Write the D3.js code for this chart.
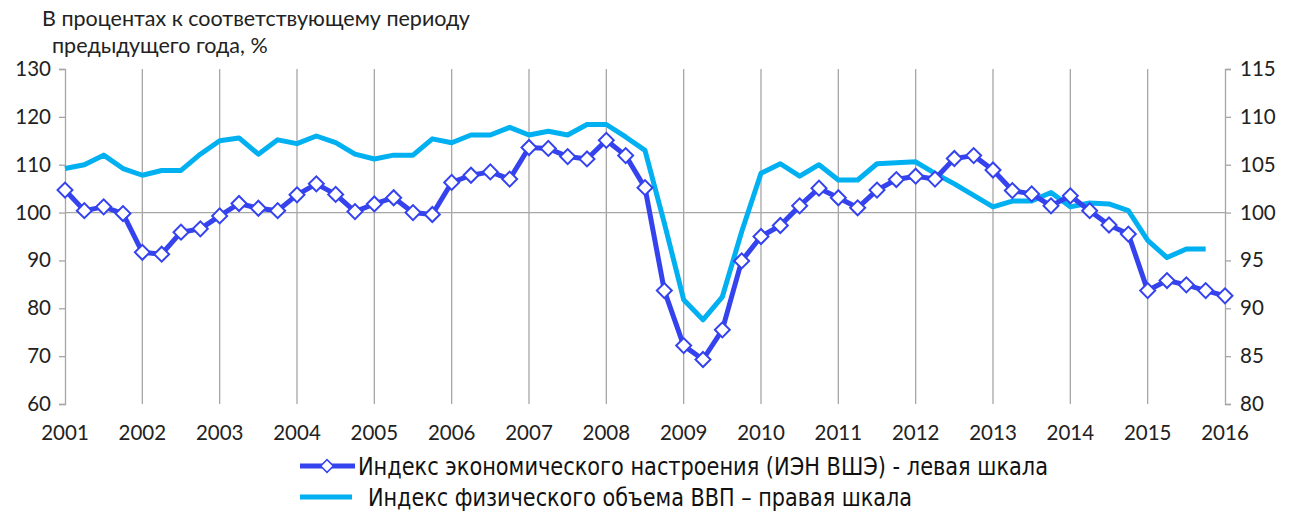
<!DOCTYPE html>
<html>
<head>
<meta charset="utf-8">
<script src="https://cdn.jsdelivr.net/npm/d3@7"></script>
<style>
  body { margin: 0; background: #fff; }
  svg { display: block; }
</style>
</head>
<body>
<script>
var width = 1296;
var height = 511;

// quarterly, from 2001 Q1
var startYear = 2001;
var ienValues = [104.7, 100.4, 101.2, 99.8, 91.7, 91.3, 95.9, 96.6, 99.3, 101.9,
  100.9, 100.4, 103.7, 106.0, 103.8, 100.2, 101.8, 103.1, 100.0, 99.6,
  106.3, 107.8, 108.5, 107.0, 113.6, 113.4, 111.7, 111.2, 115.1, 111.9,
  105.2, 83.7, 72.2, 69.3, 75.5, 89.9, 95.0, 97.3, 101.4, 105.1,
  103.1, 101.0, 104.7, 106.9, 107.6, 107.0, 111.3, 111.9, 108.9, 104.6,
  103.9, 101.4, 103.5, 100.4, 97.4, 95.5, 83.7, 85.8, 84.9, 83.7, 82.6];
var gdpValues = [104.6, 105.0, 106.0, 104.6, 103.9, 104.4, 104.4, 106.1, 107.5, 107.8,
  106.1, 107.6, 107.2, 108.0, 107.3, 106.1, 105.6, 106.0, 106.0, 107.7,
  107.3, 108.1, 108.1, 108.9, 108.1, 108.5, 108.1, 109.2, 109.2, 107.9,
  106.5, 98.9, 90.9, 88.8, 91.2, 98.0, 104.1, 105.1, 103.8, 105.0,
  103.4, 103.4, 105.1, 105.2, 105.3, 104.1, 103.0, 101.8, 100.6, 101.2,
  101.2, 102.1, 100.6, 101.0, 100.9, 100.2, 97.1, 95.3, 96.2, 96.2];
var years = [2001, 2002, 2003, 2004, 2005, 2006, 2007, 2008, 2009, 2010, 2011, 2012, 2013, 2014, 2015, 2016];
var leftTicks = [60, 70, 80, 90, 100, 110, 120, 130];
var rightTicks = [80, 85, 90, 95, 100, 105, 110, 115];
var titleLines = ["В процентах к соответствующему периоду", "предыдущего года, %"];
var legendLabels = ["Индекс экономического настроения (ИЭН ВШЭ) - левая шкала",
  "Индекс физического объема ВВП – правая шкала"];

var blue = "#3543ee";
var cyan = "#00b0f0";
var grid = "#a6a6a6";
var tickFont = "Lato, 'Open Sans', sans-serif";
var legendFont = "'Liberation Sans Narrow', 'DejaVu Sans Condensed', sans-serif";

var svg = d3.select("body").append("svg")
  .attr("width", width)
  .attr("height", height);

var x = d3.scaleLinear().domain([2001, 2016]).range([65, 1225]);
var yLeft = d3.scaleLinear().domain([60, 130]).range([404, 69]);
var yRight = d3.scaleLinear().domain([80, 115]).range([404, 69]);

function quarter(i) {
  return startYear + i / 4;
}

// vertical gridlines
svg.append("g").selectAll("line")
  .data(years.slice(1, -1))
  .enter().append("line")
  .attr("x1", function (d) { return x(d); })
  .attr("x2", function (d) { return x(d); })
  .attr("y1", yLeft(130))
  .attr("y2", yLeft(60))
  .attr("stroke", grid)
  .attr("stroke-width", 1.3);

// horizontal axis at 100
svg.append("line")
  .attr("x1", x(2001)).attr("x2", x(2016))
  .attr("y1", yLeft(100)).attr("y2", yLeft(100))
  .attr("stroke", grid)
  .attr("stroke-width", 1.3);

var leftAxis = svg.append("g")
  .attr("transform", "translate(" + x(2001) + ",0)")
  .call(d3.axisLeft(yLeft).tickValues(leftTicks).tickSize(6).tickPadding(8));

var rightAxis = svg.append("g")
  .attr("transform", "translate(" + x(2016) + ",0)")
  .call(d3.axisRight(yRight).tickValues(rightTicks).tickSize(6).tickPadding(9));

[leftAxis, rightAxis].forEach(function (a) {
  a.select(".domain").attr("stroke", grid).attr("stroke-width", 1.3);
  a.selectAll(".tick line").attr("stroke", grid).attr("stroke-width", 1.3);
  a.selectAll(".tick text")
    .attr("fill", "#222")
    .style("font-family", tickFont)
    .style("font-size", "20.5px");
});

// year labels
svg.append("g").selectAll("text")
  .data(years)
  .enter().append("text")
  .attr("x", function (d) { return x(d); })
  .attr("y", 440)
  .attr("text-anchor", "middle")
  .attr("fill", "#222")
  .style("font-family", tickFont)
  .style("font-size", "20.5px")
  .text(function (d) { return d; });

// title
svg.append("g").selectAll("text")
  .data(titleLines)
  .enter().append("text")
  .attr("x", function (d, i) { return i == 0 ? 42 : 52; })
  .attr("y", function (d, i) { return 26 + i * 27; })
  .attr("fill", "#222")
  .style("font-family", tickFont)
  .style("font-size", "21.5px")
  .text(function (d) { return d; });

var gdpLine = d3.line()
  .x(function (d, i) { return x(quarter(i)); })
  .y(function (d) { return yRight(d); });

var ienLine = d3.line()
  .x(function (d, i) { return x(quarter(i)); })
  .y(function (d) { return yLeft(d); });

svg.append("path")
  .attr("d", gdpLine(gdpValues))
  .attr("fill", "none")
  .attr("stroke", cyan)
  .attr("stroke-width", 5)
  .attr("stroke-linejoin", "round");

svg.append("path")
  .attr("d", ienLine(ienValues))
  .attr("fill", "none")
  .attr("stroke", blue)
  .attr("stroke-width", 5)
  .attr("stroke-linejoin", "round");

var diamond = d3.symbol().type(d3.symbolSquare).size(112);

svg.append("g").selectAll("path")
  .data(ienValues)
  .enter().append("path")
  .attr("d", diamond)
  .attr("transform", function (d, i) {
    return "translate(" + x(quarter(i)) + "," + yLeft(d) + ") rotate(45)";
  })
  .attr("fill", "#fff")
  .attr("stroke", blue)
  .attr("stroke-width", 2);

// legend
var legend = svg.append("g");
legend.append("line")
  .attr("x1", 300).attr("x2", 355).attr("y1", 466).attr("y2", 466)
  .attr("stroke", blue).attr("stroke-width", 5);
legend.append("path")
  .attr("d", d3.symbol().type(d3.symbolSquare).size(80))
  .attr("transform", "translate(327,466) rotate(45)")
  .attr("fill", "#fff")
  .attr("stroke", blue)
  .attr("stroke-width", 1.5);
legend.append("line")
  .attr("x1", 300).attr("x2", 352).attr("y1", 497).attr("y2", 497)
  .attr("stroke", cyan).attr("stroke-width", 5);

legend.selectAll("text")
  .data(legendLabels)
  .enter().append("text")
  .attr("x", function (d, i) { return i == 0 ? 358 : 368; })
  .attr("y", function (d, i) { return 475 + i * 31; })
  .attr("textLength", function (d, i) { return i == 0 ? 690 : 544; })
  .attr("lengthAdjust", "spacingAndGlyphs")
  .attr("fill", "#111")
  .style("font-family", legendFont)
  .style("font-size", "24px")
  .text(function (d) { return d; });
</script>
</body>
</html>
